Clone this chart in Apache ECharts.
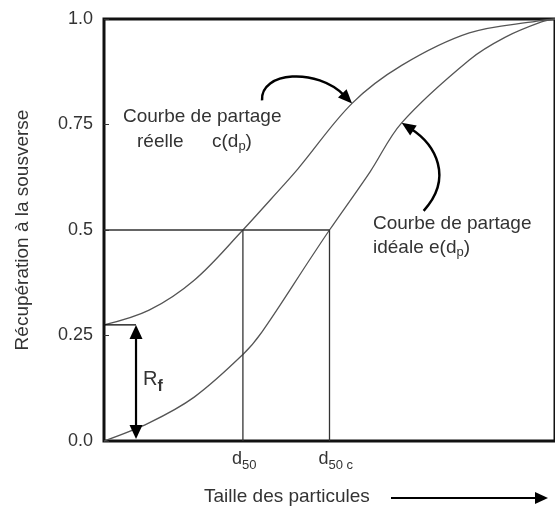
<!DOCTYPE html>
<html>
<head>
<meta charset="utf-8">
<script src="https://cdn.jsdelivr.net/npm/echarts@6/dist/echarts.min.js"></script>
<style>
  html, body { margin: 0; padding: 0; background: #fff; }
  #chart { width: 555px; height: 510px; }
</style>
</head>
<body>
<div id="chart"></div>
<script>
// particle size on an arbitrary 0-100 scale, recovery to underflow 0-1
var sizeActual = [0, 10, 20, 30.8, 37, 43, 55, 66, 81, 96, 100];
var recActual = [0.275, 0.31, 0.381, 0.5, 0.573, 0.645, 0.80, 0.89, 0.967, 0.995, 1];
var sizeIdeal = [0, 10, 20, 30.8, 35, 46, 50, 59, 66, 81, 89, 97, 100];
var recIdeal = [0, 0.043, 0.104, 0.205, 0.258, 0.436, 0.5, 0.638, 0.754, 0.903, 0.957, 0.993, 1];
var d50 = 30.8;
var d50c = 50;
var rf = 0.275;
var rfSize = 7.1;
var yTickLabels = ["0.0", "0.25", "0.5", "0.75", "1.0"];

var FONT = "Liberation Sans";
var TXT = "#333";

function zip(xs, ys) {
  return xs.map(function(x, i) { return [x, ys[i]]; });
}

var measureCtx = document.createElement("canvas").getContext("2d");
function textWidth(s, size, weight) {
  measureCtx.font = (weight || "normal") + " " + size + "px " + FONT;
  return measureCtx.measureText(s).width;
}

// lay out a run of pieces [text, size, dy, weight] left to right
function textRun(x, y, pieces) {
  var out = [];
  pieces.forEach(function(p) {
    out.push({
      type: "text", x: x, y: y + (p[2] || 0), z: 100,
      style: {
        text: p[0], fontSize: p[1], fontFamily: FONT, fontWeight: p[3] || "normal",
        fill: TXT, align: "left", verticalAlign: "top"
      }
    });
    x += textWidth(p[0], p[1], p[3]);
  });
  return out;
}

function arrowHead(tip, from, len, half) {
  var dx = tip[0] - from[0], dy = tip[1] - from[1];
  var l = Math.sqrt(dx * dx + dy * dy);
  dx /= l; dy /= l;
  var bx = tip[0] - dx * len, by = tip[1] - dy * len;
  return {
    type: "polygon", z: 100,
    shape: { points: [tip, [bx - dy * half, by + dx * half], [bx + dy * half, by - dx * half]] },
    style: { fill: "#000" }
  };
}

function curvedArrow(tip, tail, cp1, cp2) {
  var dx = tip[0] - cp2[0], dy = tip[1] - cp2[1];
  var l = Math.sqrt(dx * dx + dy * dy);
  var base = [tip[0] - dx / l * 11, tip[1] - dy / l * 11];
  return [
    {
      type: "bezierCurve", z: 100,
      shape: { x1: tail[0], y1: tail[1], cpx1: cp1[0], cpy1: cp1[1], cpx2: cp2[0], cpy2: cp2[1], x2: base[0], y2: base[1] },
      style: { stroke: "#000", lineWidth: 2.5, fill: null }
    },
    arrowHead(tip, cp2, 14, 6)
  ];
}

var lineStyle = { color: "#555", width: 1.3 };
var guideStyle = { color: "#333", width: 1.3 };

var chart = echarts.init(document.getElementById("chart"), null, { renderer: "canvas" });

chart.setOption({
  animation: false,
  backgroundColor: "#fff",
  grid: {
    left: 104, right: -3, top: 19, bottom: 69,
    show: true, borderColor: "#111", borderWidth: 3, backgroundColor: "transparent"
  },
  xAxis: {
    type: "value", min: 0, max: 100,
    axisLine: { show: false }, axisTick: { show: false },
    axisLabel: { show: false }, splitLine: { show: false }
  },
  yAxis: {
    type: "value", min: 0, max: 1, interval: 0.25,
    name: "Récupération à la sousverse",
    nameLocation: "middle", nameGap: 72,
    nameTextStyle: { fontSize: 19, fontFamily: FONT, color: TXT },
    axisLine: { show: false },
    axisTick: { show: true, inside: true, length: 5, lineStyle: { color: "#333", width: 1 } },
    axisLabel: {
      margin: 11, fontSize: 18, fontFamily: FONT, color: TXT,
      formatter: function(v) { return yTickLabels[Math.round(v / 0.25)]; }
    },
    splitLine: { show: false }
  },
  series: [
    {
      type: "line", data: zip(sizeActual, recActual), smooth: 0.35,
      symbol: "none", lineStyle: lineStyle
    },
    {
      type: "line", data: zip(sizeIdeal, recIdeal), smooth: 0.35,
      symbol: "none", lineStyle: lineStyle
    },
    {
      type: "line", data: [[0, 0.5], [d50c, 0.5], [d50c, 0]],
      symbol: "none", lineStyle: guideStyle
    },
    {
      type: "line", data: [[d50, 0], [d50, 0.5]],
      symbol: "none", lineStyle: guideStyle
    },
    {
      type: "line", data: [[0, rf], [rfSize, rf]],
      symbol: "none", lineStyle: { color: "#000", width: 1.3 }
    }
  ]
});

function px(x, y) {
  return chart.convertToPixel({ gridIndex: 0 }, [x, y]);
}

var g = [];

// Rf double arrow
var rfTop = px(rfSize, rf), rfBot = px(rfSize, 0);
rfBot[1] -= 2;
g.push({
  type: "line", z: 100,
  shape: { x1: rfTop[0], y1: rfTop[1] + 10, x2: rfBot[0], y2: rfBot[1] - 10 },
  style: { stroke: "#000", lineWidth: 2.2 }
});
g.push(arrowHead(rfTop, [rfTop[0], rfTop[1] + 20], 14, 6.5));
g.push(arrowHead(rfBot, [rfBot[0], rfBot[1] - 20], 14, 6.5));
g = g.concat(textRun(rfTop[0] + 7, rfTop[1] + 45, [["R", 20, 0], ["f", 16, 9, "bold"]]));

// curved arrows pointing at the curves
var t1 = px(55, 0.80);
g = g.concat(curvedArrow(t1, [t1[0] - 90, t1[1] - 3], [t1[0] - 92, t1[1] - 32], [t1[0] - 35, t1[1] - 36]));
var t2 = px(66, 0.754);
g = g.concat(curvedArrow(t2, [t2[0] + 22, t2[1] + 88], [t2[0] + 52, t2[1] + 55], [t2[0] + 34, t2[1] + 22]));

// curve captions
g = g.concat(textRun(123, 107, [["Courbe de partage", 19]]));
g = g.concat(textRun(137, 132, [["réelle", 19]]));
g = g.concat(textRun(212, 132, [["c(d", 19], ["p", 13, 8], [")", 19]]));
g = g.concat(textRun(373, 214, [["Courbe de partage", 19]]));
g = g.concat(textRun(373, 238, [["idéale e(d", 19], ["p", 13, 8], [")", 19]]));

// x labels at d50 and d50c
var p50 = px(d50, 0), p50c = px(d50c, 0);
g = g.concat(textRun(p50[0] - 11, 450, [["d", 18], ["50", 13, 9]]));
g = g.concat(textRun(p50c[0] - 11, 450, [["d", 18], ["50 c", 13, 9]]));

// x axis title and arrow
g = g.concat(textRun(204, 487, [["Taille des particules", 19]]));
g.push({
  type: "line", z: 100,
  shape: { x1: 391, y1: 498, x2: 536, y2: 498 },
  style: { stroke: "#000", lineWidth: 2 }
});
g.push(arrowHead([548, 498], [530, 498], 13, 6));

chart.setOption({ graphic: g });
</script>
</body>
</html>
